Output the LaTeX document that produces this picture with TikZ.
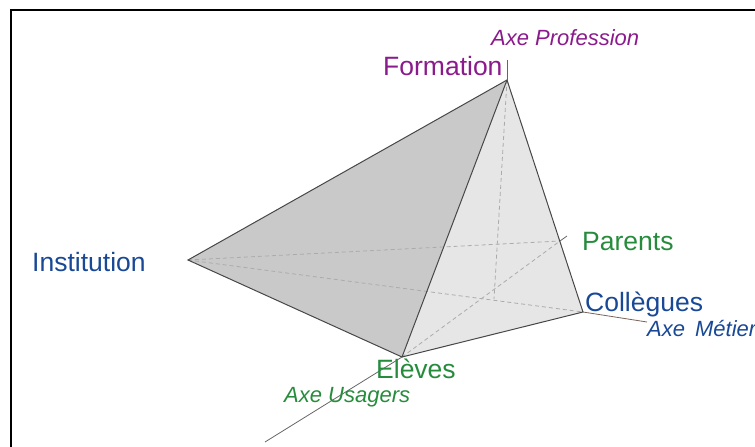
\documentclass[tikz,border=0pt]{standalone}
\usepackage{fontspec}
\setmainfont{Liberation Sans}
\definecolor{purp}{RGB}{139,26,140}
\definecolor{grn}{RGB}{38,140,60}
\definecolor{blu}{RGB}{24,72,150}
\definecolor{darkface}{RGB}{201,201,201}
\definecolor{lightface}{RGB}{230,230,230}
\definecolor{axbrown}{RGB}{120,100,90}
\begin{document}
\begin{tikzpicture}[x=1pt,y=-1pt,
  edge/.style={draw=black!72, line width=1pt},
  hid/.style={draw=black!33, dash pattern=on 4pt off 3pt, line width=0.8pt},
  axisline/.style={draw=black!60, line width=0.8pt},
  lbl/.style={inner sep=0pt, anchor=base west, font=\fontsize{26.5}{30}\selectfont},
  axlbl/.style={inner sep=0pt, anchor=base west, font=\fontsize{22}{26}\selectfont\itshape}]
\useasboundingbox (0,0) rectangle (755,447);
\clip (0,0) rectangle (755,447);
\draw[line width=2pt] (11,10) rectangle (800,500);
% vertices
\coordinate (F) at (507,80);
\coordinate (I) at (188,260);
\coordinate (E) at (402,357);
\coordinate (C) at (583,312);
\coordinate (P) at (560,241);
\coordinate (O) at (494,299);
% axis ends
\coordinate (Ftop) at (507,60);
\coordinate (Pend) at (567,236);
\coordinate (Cend) at (647,322);
\coordinate (Eend) at (265,442);
% faces
\fill[darkface] (F) -- (I) -- (E) -- cycle;
\fill[lightface] (F) -- (E) -- (C) -- cycle;
% hidden lines
\draw[hid] (I) -- (P);
\draw[hid] (I) -- (C);
\draw[hid] (E) -- (P);
\draw[hid] (F) -- (O);
% edges
\draw[edge] (F) -- (I) -- (E) -- (C) -- cycle;
\draw[edge] (F) -- (E);
% axes
\draw[axisline] (F) -- (Ftop);
\draw[axisline] (P) -- (Pend);
\draw[axisline, draw=axbrown] (C) -- (Cend);
\draw[axisline] (E) -- (Eend);
% labels
\node[axlbl, text=purp] (axprof) at (491,45) {Axe Profession};
\node[lbl, text=purp] (form) at (383,75) {Formation};
\node[lbl, text=blu] (inst) at (32,271) {Institution};
\node[lbl, text=grn] (par) at (582,250) {Parents};
\node[lbl, text=blu] (coll) at (585,311) {Collègues};
\node[axlbl, text=blu] (axmet) at (647,336) {Axe\hspace{10pt}Métier};
\node[lbl, text=grn] (elev) at (376,378) {Elèves};
\node[axlbl, text=grn] (axusa) at (284,402) {Axe Usagers};
\end{tikzpicture}
\end{document}
